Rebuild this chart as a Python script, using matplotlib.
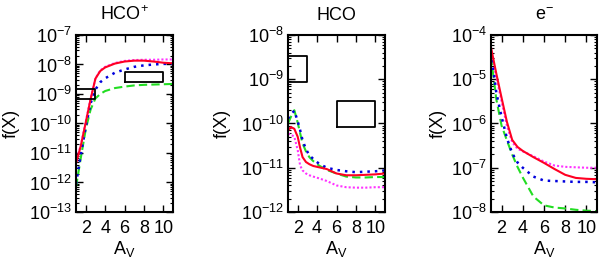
import numpy as np
import matplotlib
matplotlib.use("Agg")
import matplotlib.pyplot as plt
from matplotlib import ticker

plt.rcParams['font.family'] = ['Liberation Sans', 'DejaVu Sans']
plt.rcParams['mathtext.fontset'] = 'custom'
plt.rcParams['mathtext.rm'] = 'Liberation Sans'
plt.rcParams['mathtext.it'] = 'Liberation Sans:italic'
plt.rcParams['mathtext.default'] = 'regular'
plt.rcParams['axes.unicode_minus'] = False

# ---- HCO+ (log10 abundances)
av_hcop = [1, 1.5, 2, 2.5, 3, 3.5, 4, 5, 6, 7, 8, 9, 10, 11]
hcop_red = [-11.35, -10.75, -9.97, -9.18, -8.48, -8.22, -8.1, -7.97, -7.9, -7.87, -7.87, -7.9, -7.94, -7.96]
hcop_mag = [-11.3, -10.72, -9.95, -9.16, -8.47, -8.2, -8.08, -7.95, -7.88, -7.85, -7.84, -7.84, -7.83, -7.83]
hcop_blue = [-12.05, -11.05, -10.12, -9.32, -8.85, -8.6, -8.47, -8.28, -8.17, -8.08, -8.03, -8.0, -7.98, -7.98]
hcop_green = [-12.15, -11.15, -10.2, -9.53, -9.15, -9.0, -8.9, -8.8, -8.75, -8.71, -8.69, -8.68, -8.67, -8.66]
hcop_boxes = [(1, 3, 7e-10, 1.5e-9), (6, 10, 2.5e-9, 5.7e-9)]

# ---- HCO
av_hco = [1, 1.3, 1.65, 2.0, 2.25, 2.5, 2.85, 3.2, 3.6, 4.2, 5, 6, 7, 8, 9, 10, 11]
hco_red = [-10.16, -10.08, -10.12, -10.3, -10.55, -10.76, -10.87, -10.92, -10.96, -10.99, -11.03, -11.13, -11.17, -11.17, -11.16, -11.15, -11.13]
hco_mag = [-10.23, -10.25, -10.3, -10.6, -10.95, -11.06, -11.13, -11.17, -11.2, -11.24, -11.3, -11.4, -11.44, -11.45, -11.45, -11.44, -11.44]
hco_blue = [-9.89, -9.8, -9.71, -9.95, -10.15, -10.38, -10.58, -10.72, -10.8, -10.91, -11.0, -11.05, -11.08, -11.1, -11.09, -11.08, -11.06]
hco_green = [-10.0, -9.85, -9.7, -9.98, -10.22, -10.45, -10.63, -10.76, -10.85, -10.95, -11.05, -11.13, -11.2, -11.22, -11.22, -11.21, -11.21]
hco_boxes = [(1, 3, 8.5e-10, 3.4e-9), (6, 10, 8.5e-11, 3.2e-10)]

# ---- electrons
av_e = [1, 1.5, 2, 2.5, 3, 3.5, 4, 5, 6, 7, 8, 9, 10, 11]
e_red = [-4.28, -4.87, -5.42, -5.96, -6.37, -6.53, -6.62, -6.76, -6.89, -7.03, -7.16, -7.23, -7.25, -7.26]
e_mag = [-4.35, -4.95, -5.5, -6.05, -6.42, -6.57, -6.63, -6.74, -6.86, -6.95, -6.98, -6.99, -7.0, -7.0]
e_blue = [-4.4, -5.3, -5.85, -6.33, -6.67, -6.88, -7.0, -7.2, -7.29, -7.3, -7.31, -7.32, -7.32, -7.33]
e_green = [-4.5, -5.45, -6.05, -6.38, -6.7, -6.98, -7.22, -7.65, -7.85, -7.9, -7.92, -7.95, -7.97, -7.98]

panels = [
    ('HCO$^{+}$', av_hcop, hcop_red, hcop_mag, hcop_blue, hcop_green, hcop_boxes, (1e-13, 1e-7), [0.1267, 0.197, 0.1617, 0.6705], -0.58),
    ('HCO', av_hco, hco_red, hco_mag, hco_blue, hco_green, hco_boxes, (1e-12, 1e-8), [0.48, 0.197, 0.1617, 0.6705], -0.59),
    ('e$^{-}$', av_e, e_red, e_mag, e_blue, e_green, [], (1e-8, 1e-4), [0.8183, 0.197, 0.1767, 0.6705], -0.42),
]

fig = plt.figure(figsize=(6, 2.64), dpi=100)

for title, av, red, mag, blue, green, boxes, ylim, pos, ylx in panels:
    ax = fig.add_axes(pos)
    av = np.array(av)
    ax.plot(av, 10**np.array(mag), color='#ff33ff', lw=1.5, ls=(0, (1, 1)))
    ax.plot(av, 10**np.array(green), color='#22dd22', lw=1.5, ls=(0, (4, 2)))
    ax.plot(av, 10**np.array(blue), color='#0000dd', lw=1.8, ls=(0, (1, 2)))
    ax.plot(av, 10**np.array(red), color='#ff0022', lw=1.5)
    for x0, x1, y0, y1 in boxes:
        ax.plot([x0, x1, x1, x0, x0], [y0, y0, y1, y1, y0], color='k', lw=1.3, clip_on=False)
    ax.set_yscale('log')
    ax.set_xlim(1, 11)
    ax.set_ylim(*ylim)
    ax.yaxis.set_major_locator(ticker.LogLocator(base=10, numticks=20))
    ax.yaxis.set_minor_locator(ticker.LogLocator(base=10, subs=np.arange(2, 10), numticks=20))
    ax.yaxis.set_minor_formatter(ticker.NullFormatter())
    ax.set_xticks([2, 4, 6, 8, 10])
    ax.tick_params(which='both', direction='in', top=True, right=True, labelsize=13)
    ax.tick_params(which='major', length=5, width=1)
    ax.tick_params(which='minor', length=2.5, width=0.8)
    ax.tick_params(axis='x', pad=6)
    ax.tick_params(axis='y', pad=3)
    for s in ax.spines.values():
        s.set_linewidth(1.5)
    ax.set_title(title, fontsize=13, pad=11)
    ax.set_ylabel('f(X)', fontsize=13)
    ax.yaxis.set_label_coords(ylx, 0.5)
    ax.set_xlabel('A$_{V}$', fontsize=13)
    ax.xaxis.set_label_coords(0.5, -0.155)

fig.savefig('out.png', dpi=100)
